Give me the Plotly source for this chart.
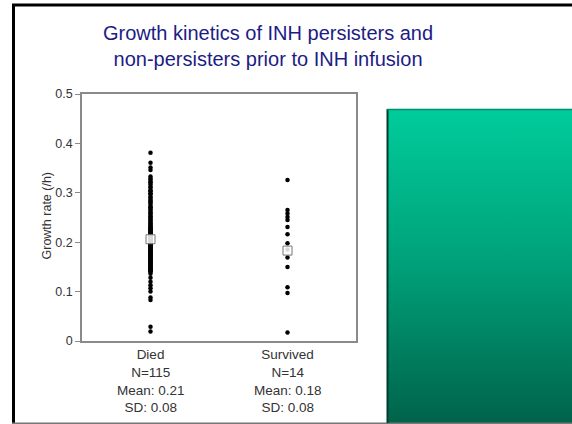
import plotly.graph_objects as go

W, H = 572, 424

# ---------------- data ----------------
categories = ["Died", "Survived"]

died_rates = [
    0.381, 0.361, 0.351, 0.346,
    0.333, 0.329, 0.326, 0.322, 0.321, 0.317, 0.312, 0.310, 0.305, 0.303,
    0.299, 0.297, 0.292, 0.290, 0.286, 0.284, 0.281, 0.278, 0.274, 0.271,
    0.269, 0.266, 0.263, 0.260, 0.258, 0.255, 0.252, 0.250, 0.247, 0.245,
    0.243, 0.240, 0.238, 0.236, 0.233, 0.232, 0.230, 0.228, 0.226, 0.224,
    0.222, 0.220, 0.219, 0.217, 0.215, 0.214, 0.212, 0.210, 0.209, 0.207,
    0.205, 0.204, 0.202, 0.201, 0.199, 0.198, 0.196, 0.195, 0.193, 0.192,
    0.190, 0.189, 0.187, 0.186, 0.184, 0.183, 0.181, 0.180, 0.178, 0.177,
    0.175, 0.174, 0.172, 0.171, 0.169, 0.168, 0.166, 0.165, 0.163, 0.162,
    0.160, 0.159, 0.157, 0.156, 0.154, 0.153, 0.151, 0.150, 0.148, 0.147,
    0.145, 0.144, 0.142, 0.141, 0.140, 0.213, 0.206, 0.197, 0.188, 0.176,
    0.167,
    0.136, 0.128, 0.120, 0.113, 0.107, 0.100, 0.088, 0.083,
    0.029, 0.019,
]

survived_rates = [
    0.326, 0.265, 0.258, 0.251, 0.245, 0.231, 0.216, 0.198,
    0.185, 0.169, 0.150, 0.109, 0.097, 0.017,
]

mean_marker = [0.206, 0.183]
n_vals = [115, 14]
mean_vals = ["0.21", "0.18"]
sd_vals = ["0.08", "0.08"]

y_ticks = [0, 0.1, 0.2, 0.3, 0.4, 0.5]
y_ticktext = ["0", "0.1", "0.2", "0.3", "0.4", "0.5"]

# ---------------- layout helpers ----------------
def px_x(x):
    return x / W

def px_y(y):
    return 1 - y / H

FONT = "Liberation Sans, Arial, sans-serif"
TXT = "#333333"
AXC = "#8a8a8a"

fig = go.Figure()

# points
fig.add_trace(go.Scatter(
    x=[categories[0]] * len(died_rates), y=died_rates, mode="markers",
    marker=dict(size=4.5, color="black"), showlegend=False, hoverinfo="y",
    xaxis="x", yaxis="y",
))
fig.add_trace(go.Scatter(
    x=[categories[1]] * len(survived_rates), y=survived_rates, mode="markers",
    marker=dict(size=4.5, color="black"), showlegend=False, hoverinfo="y",
    xaxis="x", yaxis="y",
))
# mean markers
fig.add_trace(go.Scatter(
    x=categories, y=mean_marker, mode="markers",
    marker=dict(symbol="square", size=9, color="rgba(255,255,255,0.85)",
                line=dict(color="#777777", width=1)),
    showlegend=False, hoverinfo="y", xaxis="x", yaxis="y",
))

# green gradient panel
fig.add_trace(go.Scatter(
    x=[0, 1, 1, 0, 0], y=[0, 0, 1, 1, 0], mode="lines",
    fill="toself",
    fillgradient=dict(type="vertical",
                      colorscale=[[0, "#00634A"], [0.5, "#00A079"], [1, "#00CC9B"]]),
    line=dict(width=0), showlegend=False, hoverinfo="skip",
    xaxis="x2", yaxis="y2",
))

ann = []
for c, n, m, s in zip(categories, n_vals, mean_vals, sd_vals):
    ann.append(dict(
        x=c, xref="x", y=px_y(390), yref="paper", yanchor="middle",
        xanchor="center",
        text=f"N={n}<br>Mean: {m}<br>SD: {s}", showarrow=False,
        font=dict(family=FONT, size=13.5, color=TXT), align="center",
    ))

ann.append(dict(
    x=px_x(46.5), y=px_y(216), xref="paper", yref="paper",
    xanchor="center", yanchor="middle",
    text="Growth rate (/h)", textangle=-90, showarrow=False,
    font=dict(family=FONT, size=12.5, color=TXT),
))

ann.append(dict(
    x=px_x(268), y=px_y(46), xref="paper", yref="paper",
    xanchor="center", yanchor="middle",
    text="Growth kinetics of INH persisters and<br>non-persisters prior to INH infusion",
    showarrow=False, align="center",
    font=dict(family=FONT, size=20, color="#1c1c86"),
))

shapes = [
    # slide frame
    dict(type="line", xref="paper", yref="paper",
         x0=px_x(13.5), x1=px_x(13.5), y0=px_y(4), y1=px_y(424),
         line=dict(color="black", width=3)),
    dict(type="line", xref="paper", yref="paper",
         x0=px_x(12), x1=px_x(574), y0=px_y(5), y1=px_y(5),
         line=dict(color="black", width=3)),
    dict(type="line", xref="paper", yref="paper",
         x0=px_x(12), x1=px_x(574), y0=px_y(423.5), y1=px_y(423.5),
         line=dict(color="#777777", width=2)),
    # green panel border
    dict(type="line", xref="paper", yref="paper",
         x0=px_x(387.5), x1=px_x(387.5), y0=px_y(109), y1=px_y(423),
         line=dict(color="#003d2d", width=2)),
    dict(type="line", xref="paper", yref="paper",
         x0=px_x(387), x1=px_x(574), y0=px_y(109.5), y1=px_y(109.5),
         line=dict(color="#008f6b", width=1.5)),
]

fig.update_layout(
    template="none",
    width=W, height=H,
    margin=dict(l=0, r=0, t=0, b=0),
    paper_bgcolor="white", plot_bgcolor="white",
    showlegend=False,
    xaxis=dict(
        domain=[px_x(82), px_x(356)],
        type="category", categoryorder="array", categoryarray=categories,
        range=[-0.5, 1.5], showgrid=False, zeroline=False,
        showline=True, linecolor=AXC, linewidth=1.5, mirror=True,
        ticks="", tickfont=dict(family=FONT, size=13.5, color=TXT),
        automargin=False, fixedrange=True,
    ),
    yaxis=dict(
        domain=[1 - 341 / H, 1 - 94 / H],
        range=[0, 0.5], tickvals=y_ticks, ticktext=y_ticktext,
        showgrid=False, zeroline=False,
        showline=True, linecolor=AXC, linewidth=1.5, mirror=True,
        ticks="outside", ticklen=5, tickcolor=AXC, tickwidth=1,
        tickfont=dict(family=FONT, size=12.5, color=TXT),
        automargin=False, fixedrange=True,
    ),
    xaxis2=dict(domain=[px_x(387), 1], range=[0, 1], visible=False,
                anchor="y2", fixedrange=True),
    yaxis2=dict(domain=[px_y(423), px_y(109)], range=[0, 1], visible=False,
                anchor="x2", fixedrange=True),
    annotations=ann,
    shapes=shapes,
)

fig.write_html(
    "out.html",
    config={"displayModeBar": False},
    post_script="document.body.style.margin='0';document.body.style.overflow='hidden';",
)
